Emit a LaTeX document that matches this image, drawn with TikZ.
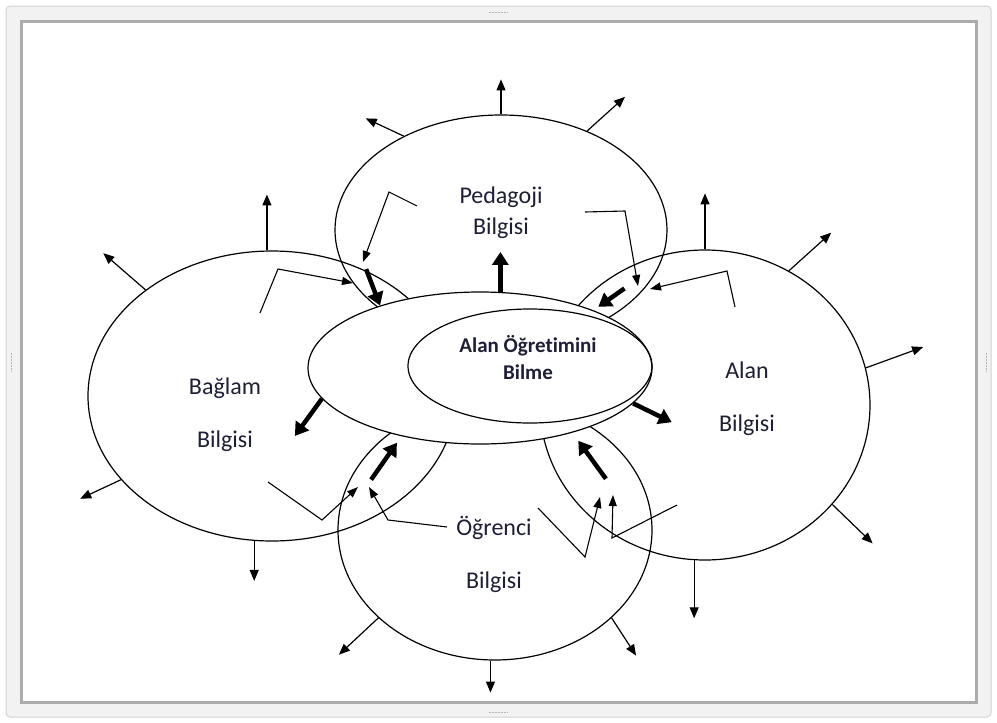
\documentclass[tikz,border=0pt]{standalone}
\usepackage{fontspec}
\setmainfont{Carlito}[Ligatures=NoCommon]
\usetikzlibrary{arrows.meta,shapes.geometric,calc}
\definecolor{txtcol}{RGB}{30,30,55}

\begin{document}
\begin{tikzpicture}[x=1pt,y=-1pt,
    oval/.style={ellipse, draw, line width=1.2pt, inner sep=0pt},
    lbl/.style={align=center, text=txtcol, font=\fontsize{24}{31}\selectfont},
    outarr/.style={line width=1.2pt, -{Triangle[length=11pt,width=9pt]}},
    bigarr/.style={line width=4.5pt, -{Triangle[length=13pt,width=16pt]}},
    elbow/.style={line width=1.1pt, -{Triangle[length=11pt,width=8pt]}}]
  \useasboundingbox (0,0) rectangle (997,723);
  % frame
  \draw[gray!35, fill=gray!10, rounded corners=4pt, line width=1pt] (6,6) rectangle (991,717);
  \draw[gray!65, fill=white, line width=3pt] (21,21) rectangle (976,702);
  \draw[gray!60, line width=0.8pt, dash pattern=on 1.5pt off 1.5pt] (489,12) -- (508,12) (489,712) -- (508,712)
    (11,353) -- (11,372) (986,353) -- (986,372);

  % the four areas
  \node[oval, minimum width=332pt, minimum height=230pt] (ped) at (501,230) {};
  \node[oval, minimum width=368pt, minimum height=290pt] (bag) at (272,396) {};
  \node[oval, minimum width=330pt, minimum height=310pt] (alan) at (705,405) {};
  \node[oval, minimum width=314pt, minimum height=260pt] (ogr) at (495,530) {};

  \foreach \n/\a/\d/\l in {ped/90/90/35, ped/136/155/42, ped/49/42/51,
      bag/92/90/56, bag/140/139/56, bag/209/205/45, bag/263/270/40,
      alan/90/90/56, alan/58/42/57, alan/13/20/61, alan/322/316/56, alan/266/270/58,
      ogr/268/270/32, ogr/217/223/54, ogr/323/303/45}
    \draw[outarr] (\n.\a) -- ++(\d:\l pt);

  % elbow arrows
  \draw[elbow] (417,206) -- (389,192) -- (363,262);
  \draw[elbow] (585,212) -- (625,211) -- (638,286);
  \draw[elbow] (260,313) -- (278,269) -- (353,283);
  \draw[elbow] (735,307) -- (727,271) -- (650,289);
  \draw[elbow] (268,482) -- (322,520) -- (358,487);
  \draw[elbow] (447,527) -- (388,520) -- (369,487);
  \draw[elbow] (677,505) -- (612,538) -- (613,495);
  \draw[elbow] (538,508) -- (585,557) -- (600,497);

  % centre
  \node[oval, fill=white, minimum width=344pt, minimum height=152pt] (core) at (480,368) {};
  \node[oval, minimum width=244pt, minimum height=114pt] (bilme) at (530,366) {};
  \node[align=center, text=txtcol, font=\bfseries\fontsize{21}{27}\selectfont] (bilmetxt) at (528,358) {Alan Öğretimini\\Bilme};

  \node[lbl] (pedtxt) at (501,213) {Pedagoji\\Bilgisi};
  \node[lbl] (bagtxt) at (225,415) {Bağlam\\[22pt]Bilgisi};
  \node[lbl] (alantxt) at (747,399) {Alan\\[22pt]Bilgisi};
  \node[lbl] (ogrtxt) at (494,554) {Öğrenci\\[22pt]Bilgisi};

  % thick arrows
  \draw[bigarr] (core.75) -- ++(90:40pt);
  \draw[bigarr] (core.191) -- ++(234:46pt);
  \draw[bigarr] (core.347) -- ++(334:43pt);
  \draw[bigarr] ($(core.148)+(111:39pt)$) -- (core.148);
  \draw[bigarr] ($(core.27)+(35:38pt)$) -- ($(core.27)+(35:6pt)$);
  \draw[bigarr] ($(core.221)+(235:53pt)$) -- ($(core.221)+(235:8pt)$);
  \draw[bigarr] ($(core.325)+(306:57pt)$) -- ($(core.325)+(306:10pt)$);
\end{tikzpicture}
\end{document}
